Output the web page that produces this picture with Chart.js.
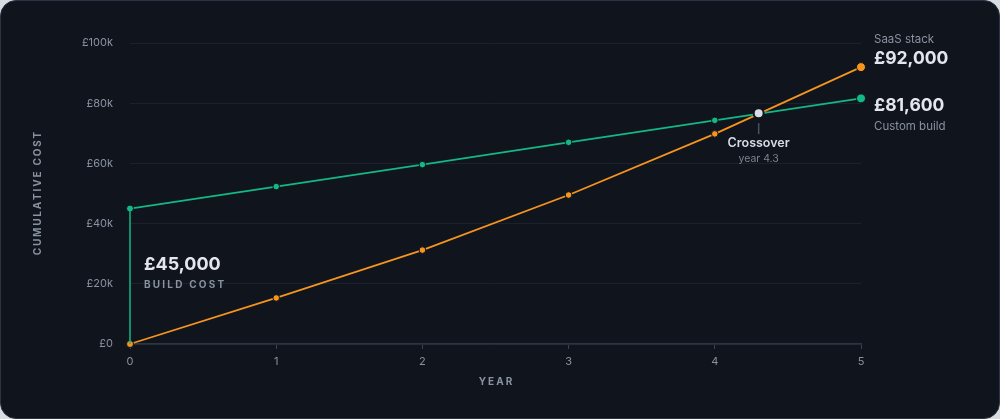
<!DOCTYPE html>
<html>
<head>
<meta charset="utf-8">
<script src="https://cdn.jsdelivr.net/npm/chart.js@4"></script>
<style>
  html, body { margin: 0; padding: 0; background: #d7dbe2; }
  #card {
    position: absolute; left: 0; top: 0;
    width: 998px; height: 417px;
    background: #0f141d;
    border: 1px solid #2b3444;
    border-radius: 16px;
  }
  #chart { position: absolute; left: 0; top: 0; }
</style>
</head>
<body>
<div id="card"></div>
<canvas id="chart" width="1000" height="419"></canvas>
<script>
const years = [0, 1, 2, 3, 4, 5];
const customBuild = [45000, 52300, 59600, 67000, 74300, 81600];
const saasStack = [0, 15300, 31200, 49500, 69800, 92000];
const yTicks = [0, 20000, 40000, 60000, 80000, 100000];
const crossover = { year: 4.3, value: 76700 };

const GREEN = "#13b884";
const ORANGE = "#f7941d";
const MUTED = "#8a92a0";
const LIGHT = "#e3e6ef";
const BG = "#0f141d";
const FONT = "Inter, 'Noto Sans', sans-serif";

function spaced(ctx, text, x, y, spacing) {
  // draw text with manual letter spacing, starting at x
  let cx = x;
  for (const ch of text) {
    ctx.fillText(ch, cx, y);
    cx += ctx.measureText(ch).width + spacing;
  }
  return cx;
}
function spacedWidth(ctx, text, spacing) {
  let w = 0;
  for (const ch of text) w += ctx.measureText(ch).width + spacing;
  return w - spacing;
}

const annotations = {
  id: "annotations",
  afterDatasetsDraw(chart) {
    const { ctx, scales: { x, y }, chartArea } = chart;
    ctx.save();

    // axis titles
    ctx.fillStyle = MUTED;
    ctx.font = "700 10px " + FONT;
    ctx.textBaseline = "middle";
    ctx.textAlign = "left";
    const midX = (chartArea.left + chartArea.right) / 2;
    const yw = spacedWidth(ctx, "YEAR", 2);
    spaced(ctx, "YEAR", midX - yw / 2, 382, 2);

    ctx.save();
    ctx.translate(38, (chartArea.top + chartArea.bottom) / 2);
    ctx.rotate(-Math.PI / 2);
    const cw = spacedWidth(ctx, "CUMULATIVE COST", 1.8);
    spaced(ctx, "CUMULATIVE COST", -cw / 2, 0, 1.8);
    ctx.restore();

    // build cost label
    ctx.fillStyle = LIGHT;
    ctx.font = "700 18px " + FONT;
    ctx.fillText("£45,000", 144, 265);
    ctx.fillStyle = MUTED;
    ctx.font = "700 10px " + FONT;
    spaced(ctx, "BUILD COST", 144, 285, 2.2);

    // right end labels
    const rx = chartArea.right + 13;
    ctx.fillStyle = MUTED;
    ctx.font = "400 11.5px " + FONT;
    ctx.fillText("SaaS stack", rx, 40);
    ctx.fillText("Custom build", rx, 127);
    ctx.fillStyle = LIGHT;
    ctx.font = "700 17.5px " + FONT;
    ctx.fillText("£92,000", rx, 59);
    ctx.fillText("£81,600", rx, 106);

    // crossover marker
    const px = x.getPixelForValue(crossover.year);
    const py = y.getPixelForValue(crossover.value);
    ctx.strokeStyle = "#4a5161";
    ctx.lineWidth = 1.5;
    ctx.beginPath();
    ctx.moveTo(px, py + 10);
    ctx.lineTo(px, py + 21);
    ctx.stroke();
    ctx.beginPath();
    ctx.arc(px, py, 5, 0, Math.PI * 2);
    ctx.fillStyle = "#d9dce6";
    ctx.fill();
    ctx.lineWidth = 2;
    ctx.strokeStyle = BG;
    ctx.stroke();

    ctx.textAlign = "center";
    ctx.fillStyle = "#d9dce6";
    ctx.font = "600 12.5px " + FONT;
    ctx.fillText("Crossover", px, py + 30);
    ctx.fillStyle = "#7b8391";
    ctx.font = "400 10.5px " + FONT;
    ctx.fillText("year " + crossover.year, px, py + 46);

    ctx.restore();
  }
};

const radii = years.map((_, i) => (i === 0 ? 3.5 : i === years.length - 1 ? 4.5 : 3.3));

new Chart(document.getElementById("chart"), {
  type: "line",
  data: {
    datasets: [
      {
        label: "Build cost",
        data: [{ x: 0, y: 0 }, { x: 0, y: customBuild[0] }],
        borderColor: GREEN,
        borderWidth: 1.5,
        pointRadius: 0,
        clip: false
      },
      {
        label: "Custom build",
        data: years.map((yr, i) => ({ x: yr, y: customBuild[i] })),
        borderColor: GREEN,
        backgroundColor: GREEN,
        borderWidth: 1.8,
        pointRadius: radii,
        pointBorderColor: BG,
        pointBorderWidth: 1,
        tension: 0,
        clip: false
      },
      {
        label: "SaaS stack",
        data: years.map((yr, i) => ({ x: yr, y: saasStack[i] })),
        borderColor: ORANGE,
        backgroundColor: ORANGE,
        borderWidth: 1.8,
        pointRadius: radii,
        pointBorderColor: BG,
        pointBorderWidth: 1,
        tension: 0,
        clip: false
      }
    ]
  },
  options: {
    responsive: false,
    animation: false,
    layout: { padding: { left: 0, right: 139, top: 43, bottom: 0 } },
    plugins: {
      legend: { display: false },
      tooltip: { enabled: false },
      title: { display: false }
    },
    scales: {
      x: {
        type: "linear",
        min: 0,
        max: 5,
        afterFit: (s) => { s.height = 75; },
        afterBuildTicks: (s) => { s.ticks = years.map((v) => ({ value: v })); },
        grid: { drawOnChartArea: false, drawTicks: true, tickLength: 5, color: "#3a4252" },
        border: { color: "#2e3442", width: 1.5 },
        ticks: {
          color: MUTED,
          padding: 6,
          font: { family: FONT, size: 11 }
        }
      },
      y: {
        min: 0,
        max: 100000,
        afterFit: (s) => { s.width = 130; },
        afterBuildTicks: (s) => { s.ticks = yTicks.map((v) => ({ value: v })); },
        grid: { color: "#1c222d", drawTicks: false },
        border: { display: false },
        ticks: {
          color: MUTED,
          padding: 17,
          font: { family: FONT, size: 11 },
          callback: (v) => (v === 0 ? "£0" : "£" + v / 1000 + "k")
        }
      }
    }
  },
  plugins: [annotations]
});
</script>
</body>
</html>
